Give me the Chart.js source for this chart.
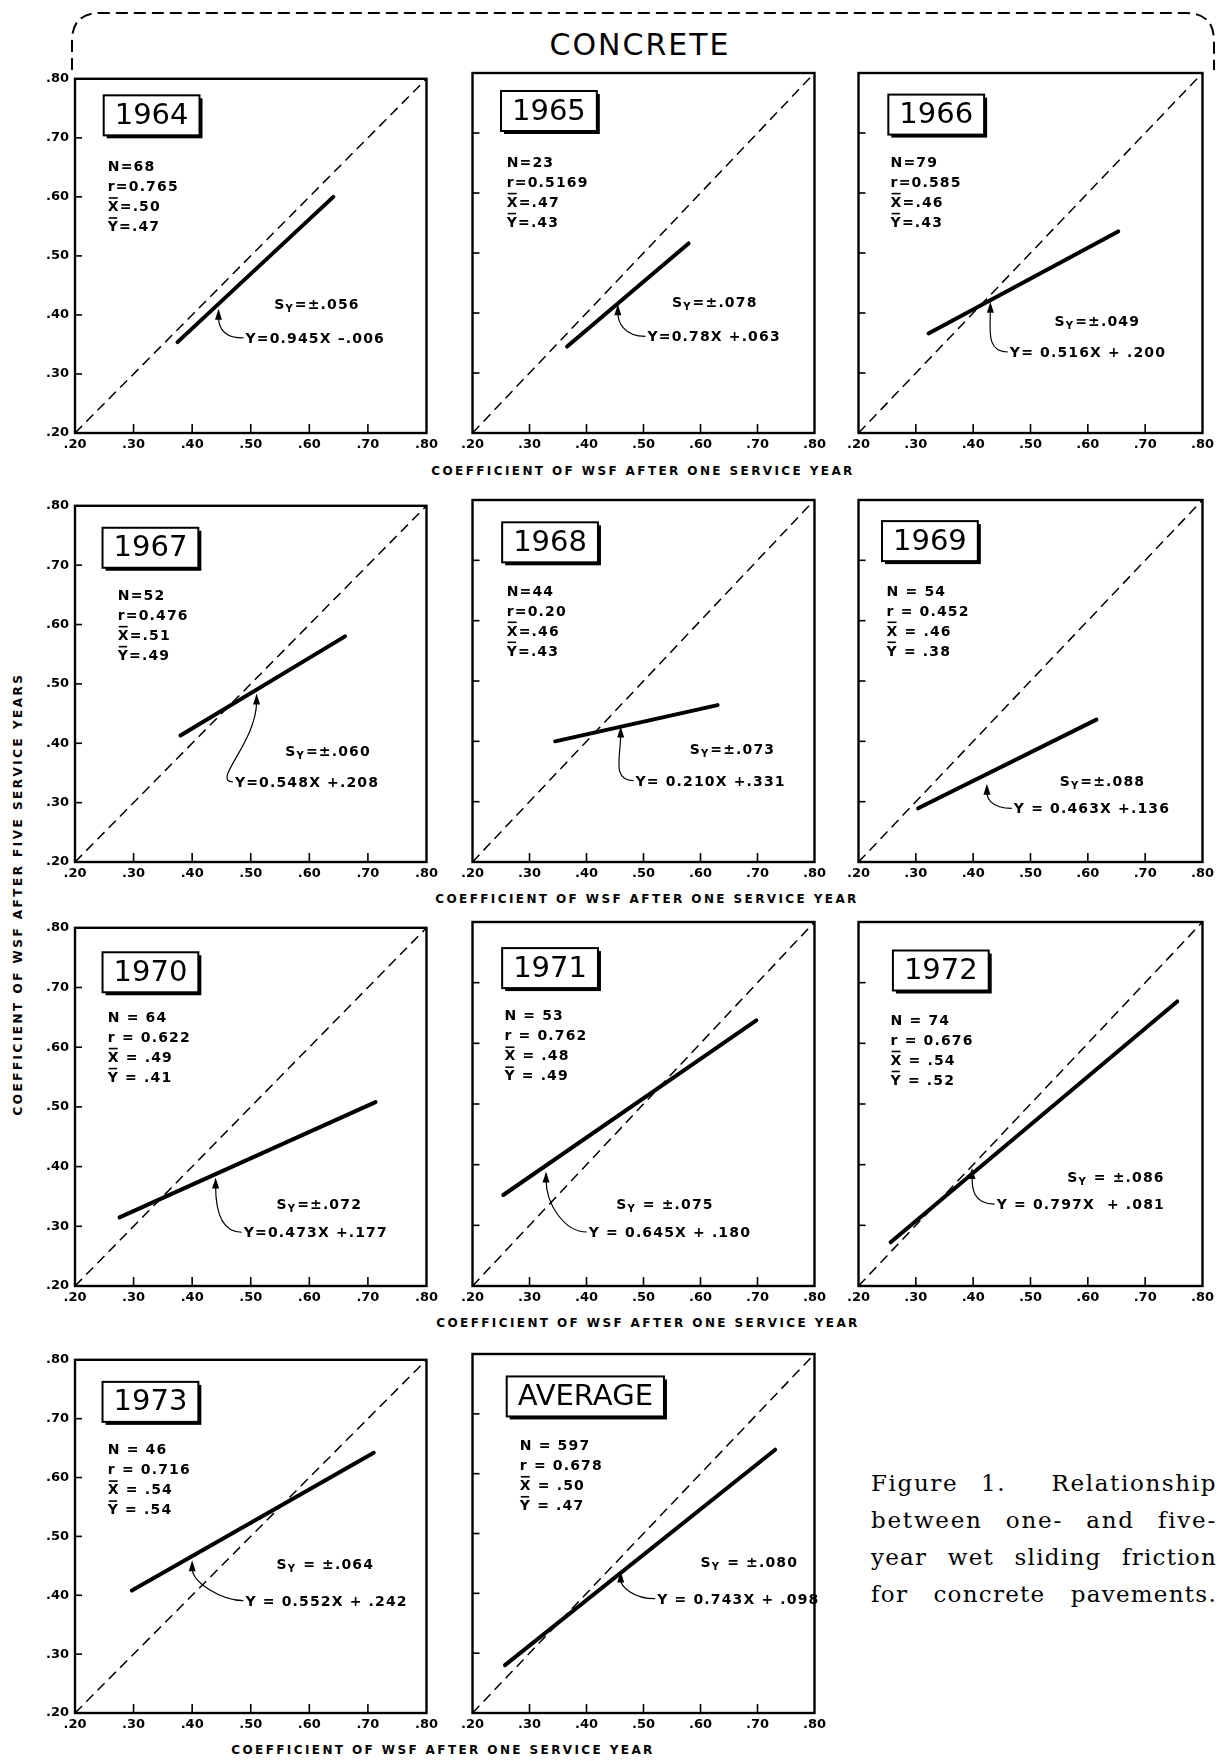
<!DOCTYPE html>
<html>
<head>
<meta charset="utf-8">
<script src="https://cdn.jsdelivr.net/npm/chart.js@4.4.0/dist/chart.umd.min.js"></script>
<style>
body { margin: 0; background: #fff; }
#page { position: relative; width: 1229px; height: 1761px; overflow: hidden; background: #fff; color: #000; font-family: "DejaVu Sans", sans-serif; }
.panel { position: absolute; }
.title { position: absolute; left: 640px; top: 30px; font-size: 30px; line-height: 30px; letter-spacing: 2px; transform: translateX(-50%); white-space: nowrap; }
.xtitle { position: absolute; font-weight: bold; font-size: 12px; line-height: 14px; letter-spacing: 2.4px; white-space: nowrap; transform: translateX(-50%); }
.ytitle { position: absolute; left: 18px; top: 894px; font-weight: bold; font-size: 12px; line-height: 14px; letter-spacing: 2.5px; white-space: nowrap; transform: translate(-50%, -50%) rotate(-90deg); }
.caption { position: absolute; left: 871px; top: 1465px; width: 346px; font-family: "DejaVu Serif", serif; font-size: 23px; line-height: 37px; }
.caption div { text-align: justify; text-align-last: justify; }
.caption span { white-space: nowrap; }
</style>
</head>
<body>
<div id="page">
  <svg width="1229" height="100" style="position:absolute;left:0;top:0">
    <path d="M 72 70 L 72 41 Q 72 13 100 13 L 1186 13 Q 1214 13 1214 41 L 1214 70" fill="none" stroke="#000" stroke-width="2" stroke-dasharray="12 6"/>
  </svg>
  <div class="title">CONCRETE</div>
  <div class="xtitle" style="left:643px;top:464px">COEFFICIENT OF WSF AFTER ONE SERVICE YEAR</div>
  <div class="xtitle" style="left:647px;top:892px">COEFFICIENT OF WSF AFTER ONE SERVICE YEAR</div>
  <div class="xtitle" style="left:648px;top:1316px">COEFFICIENT OF WSF AFTER ONE SERVICE YEAR</div>
  <div class="xtitle" style="left:443px;top:1743px">COEFFICIENT OF WSF AFTER ONE SERVICE YEAR</div>
  <div class="ytitle">COEFFICIENT OF WSF AFTER FIVE SERVICE YEARS</div>
  <div class="caption" id="caption">
    <div>Figure 1.&nbsp; Relationship</div>
    <div>between one- and five-</div>
    <div>year wet sliding friction</div>
    <div>for concrete pavements.</div>
  </div>
</div>
<script>
// ---- data ----
const panelTitles = ['1964', '1965', '1966', '1967', '1968', '1969', '1970', '1971', '1972', '1973', 'AVERAGE'];
const tickValues = [0.2, 0.3, 0.4, 0.5, 0.6, 0.7, 0.8];
const tickLabels = ['.20', '.30', '.40', '.50', '.60', '.70', '.80'];
const sampleN = ['68', '23', '79', '52', '44', '54', '64', '53', '74', '46', '597'];
const corrR = ['0.765', '0.5169', '0.585', '0.476', '0.20', '0.452', '0.622', '0.762', '0.676', '0.716', '0.678'];
const meanX = ['.50', '.47', '.46', '.51', '.46', '.46', '.49', '.48', '.54', '.54', '.50'];
const meanY = ['.47', '.43', '.43', '.49', '.43', '.38', '.41', '.49', '.52', '.54', '.47'];
const stdErrY = ['.056', '.078', '.049', '.060', '.073', '.088', '.072', '.075', '.086', '.064', '.080'];
const equations = ['Y=0.945X \u2013.006', 'Y=0.78X +.063', 'Y= 0.516X + .200', 'Y=0.548X +.208', 'Y= 0.210X +.331',
  'Y = 0.463X +.136', 'Y=0.473X +.177', 'Y = 0.645X + .180', 'Y = 0.797X  + .081', 'Y = 0.552X + .242', 'Y = 0.743X + .098'];
const lineStartX = [0.375, 0.366, 0.322, 0.380, 0.345, 0.304, 0.276, 0.254, 0.256, 0.297, 0.257];
const lineStartY = [0.354, 0.344, 0.366, 0.413, 0.400, 0.289, 0.315, 0.350, 0.272, 0.408, 0.280];
const lineEndX = [0.641, 0.579, 0.653, 0.661, 0.630, 0.615, 0.713, 0.698, 0.756, 0.710, 0.731];
const lineEndY = [0.600, 0.516, 0.536, 0.580, 0.460, 0.436, 0.508, 0.638, 0.669, 0.642, 0.640];

// ---- layout (pixels / data-unit anchors) ----
const colLeft = [75, 463, 849];
const colWidth = [359, 359, 361];
const rowTop = [73, 500, 922, 1354];
const rowHeight = [360, 362, 364, 359];
const boxAt = [[.249, .772], [.250, .770], [.252, .764], [.247, .763], [.252, .763], [.241, .765],
  [.247, .759], [.252, .757], [.260, .753], [.247, .7625], [.260, .7625]];
const statsAt = [[.256, .652], [.260, .652], [.256, .652], [.273, .650], [.260, .650], [.249, .650],
  [.256, .651], [.256, .646], [.256, .639], [.256, .648], [.283, .648]];
const syAt = [[.540, .419], [.550, .419], [.542, .387], [.559, .387], [.581, .387], [.551, .335],
  [.544, .338], [.452, .335], [.564, .379], [.544, .453], [.600, .453]];
const eqAt = [[.491, .361], [.507, .361], [.464, .335], [.473, .335], [.486, .335], [.471, .289],
  [.488, .290], [.404, .289], [.441, .335], [.491, .391], [.524, .391]];
const tipAt = [[.445, .414], [.455, .418], [.430, .422], [.510, .487], [.460, .428], [.424, .333],
  [.440, .385], [.329, .392], [.398, .398], [.400, .463], [.460, .440]];

const FONT = '"DejaVu Sans", sans-serif';
const TXT = 'bold 14px ' + FONT;
const SPACING = '1.15px';

function drawSpaced(ctx, text, x, y) {
  ctx.fillText(text, x, y);
  return ctx.measureText(text).width;
}

const panelDecor = {
  id: 'panelDecor',
  afterDraw(chart, args, opts) {
    const i = opts.index;
    const ctx = chart.ctx;
    const a = chart.chartArea;
    const xs = chart.scales.x, ys = chart.scales.y;
    ctx.save();
    ctx.strokeStyle = '#000';
    ctx.fillStyle = '#000';
    // frame
    ctx.lineWidth = 2.4;
    ctx.strokeRect(a.left, a.top, a.right - a.left, a.bottom - a.top);
    // inward ticks
    ctx.lineWidth = 1.6;
    tickValues.slice(1, -1).forEach(v => {
      const px = xs.getPixelForValue(v);
      ctx.beginPath(); ctx.moveTo(px, a.bottom); ctx.lineTo(px, a.bottom - 9); ctx.stroke();
      const py = ys.getPixelForValue(v);
      ctx.beginPath(); ctx.moveTo(a.left, py); ctx.lineTo(a.left + 7, py); ctx.stroke();
    });

    // year box
    ctx.font = '29px ' + FONT;
    const tw = ctx.measureText(panelTitles[i]).width;
    const bx = xs.getPixelForValue(boxAt[i][0]);
    const by = ys.getPixelForValue(boxAt[i][1]);
    const bw = tw + 22, bh = 40;
    ctx.fillRect(bx + 3, by + 3, bw, bh);
    ctx.fillStyle = '#fff';
    ctx.fillRect(bx, by, bw, bh);
    ctx.fillStyle = '#000';
    ctx.lineWidth = 2;
    ctx.strokeRect(bx, by, bw, bh);
    ctx.textBaseline = 'middle';
    ctx.textAlign = 'center';
    ctx.fillText(panelTitles[i], bx + bw / 2, by + bh / 2 + 1);

    // stats block
    ctx.textAlign = 'left';
    ctx.textBaseline = 'alphabetic';
    ctx.font = TXT;
    ctx.letterSpacing = SPACING;
    const spaced = i >= 5;
    const eqs = spaced ? ' = ' : '=';
    const sx = xs.getPixelForValue(statsAt[i][0]);
    const sy0 = ys.getPixelForValue(statsAt[i][1]) + 5;
    const rows = [['N', sampleN[i], false], ['r', corrR[i], false], ['X', meanX[i], true], ['Y', meanY[i], true]];
    rows.forEach((r, k) => {
      const yy = sy0 + k * 20;
      const w = drawSpaced(ctx, r[0], sx, yy);
      if (r[2]) ctx.fillRect(sx + 1, yy - 14, w - 3, 1.6);
      drawSpaced(ctx, eqs + r[1], sx + w, yy);
    });

    // standard error
    const syx = xs.getPixelForValue(syAt[i][0]);
    const syy = ys.getPixelForValue(syAt[i][1]) + 5;
    let w = drawSpaced(ctx, 'S', syx, syy);
    ctx.font = 'bold 10px ' + FONT;
    w += drawSpaced(ctx, 'Y', syx + w, syy + 3);
    ctx.font = TXT;
    drawSpaced(ctx, (i >= 7 ? ' = \u00b1' : '=\u00b1') + stdErrY[i], syx + w + 1, syy);

    // equation with curved arrow
    const ex = xs.getPixelForValue(eqAt[i][0]);
    const ey = ys.getPixelForValue(eqAt[i][1]);
    drawSpaced(ctx, equations[i], ex, ey + 5);
    ctx.letterSpacing = '0px';
    const tx = xs.getPixelForValue(tipAt[i][0]);
    const ty = ys.getPixelForValue(tipAt[i][1]) + 2;
    ctx.lineWidth = 1.2;
    ctx.beginPath();
    ctx.moveTo(ex - 2, ey);
    ctx.bezierCurveTo(ex - 24, ey, tx, ty + 0.55 * (ey - ty), tx, ty + 8);
    ctx.stroke();
    ctx.beginPath();
    ctx.moveTo(tx, ty);
    ctx.lineTo(tx - 3.5, ty + 11);
    ctx.lineTo(tx + 3.5, ty + 11);
    ctx.closePath();
    ctx.fill();
    ctx.restore();
  }
};

const page = document.getElementById('page');
panelTitles.forEach((name, i) => {
  const col = i % 3, row = Math.floor(i / 3);
  const L = col === 0 ? 44 : 6, T = 8, R = 8, B = 26;
  const W = colWidth[col] + L + R, H = rowHeight[row] + T + B;
  const div = document.createElement('div');
  div.className = 'panel';
  div.style.left = (colLeft[col] - L) + 'px';
  div.style.top = (rowTop[row] - T) + 'px';
  div.style.width = W + 'px';
  div.style.height = H + 'px';
  const cv = document.createElement('canvas');
  cv.width = W; cv.height = H;
  cv.style.width = W + 'px'; cv.style.height = H + 'px';
  div.appendChild(cv);
  page.appendChild(div);

  const axisBase = {
    type: 'linear',
    min: tickValues[0],
    max: tickValues[tickValues.length - 1],
    afterBuildTicks: s => { s.ticks = tickValues.map(v => ({ value: v })); },
    grid: { display: false, drawTicks: false },
    border: { display: false }
  };

  new Chart(cv, {
    type: 'scatter',
    data: {
      datasets: [
        {
          data: [{ x: tickValues[0], y: tickValues[0] }, { x: tickValues[6], y: tickValues[6] }],
          showLine: true, borderColor: '#000', borderWidth: 1.5, borderDash: [10, 6], pointRadius: 0
        },
        {
          data: [{ x: lineStartX[i], y: lineStartY[i] }, { x: lineEndX[i], y: lineEndY[i] }],
          showLine: true, borderColor: '#000', borderWidth: 4, borderCapStyle: 'round', pointRadius: 0
        }
      ]
    },
    options: {
      responsive: false,
      animation: false,
      events: [],
      layout: { autoPadding: false, padding: { top: T, right: R, left: 0, bottom: 0 } },
      scales: {
        x: Object.assign({}, axisBase, {
          afterFit: s => { s.height = B; },
          ticks: { autoSkip: false, maxRotation: 0, padding: 4, color: '#000',
            font: { family: FONT, size: 13, weight: 'bold' }, callback: (v, k) => tickLabels[k] }
        }),
        y: Object.assign({}, axisBase, {
          afterFit: s => { s.width = L; },
          ticks: { display: col === 0, padding: 6, color: '#000',
            font: { family: FONT, size: 13, weight: 'bold' }, callback: (v, k) => tickLabels[k] }
        })
      },
      plugins: { legend: { display: false }, tooltip: { enabled: false }, panelDecor: { index: i } }
    },
    plugins: [panelDecor]
  });
});

// fit each caption line to the column: grow letter spacing, leave the rest to justify
const cap = document.getElementById('caption');
const capW = 346;
Array.from(cap.children).forEach(line => {
  const probe = document.createElement('span');
  probe.innerHTML = line.innerHTML;
  cap.appendChild(probe);
  const natural = probe.getBoundingClientRect().width;
  cap.removeChild(probe);
  const n = line.textContent.length;
  const extra = Math.max(0, (capW - natural - 4) / n * 0.5);
  line.style.letterSpacing = extra.toFixed(2) + 'px';
});
</script>
</body>
</html>
